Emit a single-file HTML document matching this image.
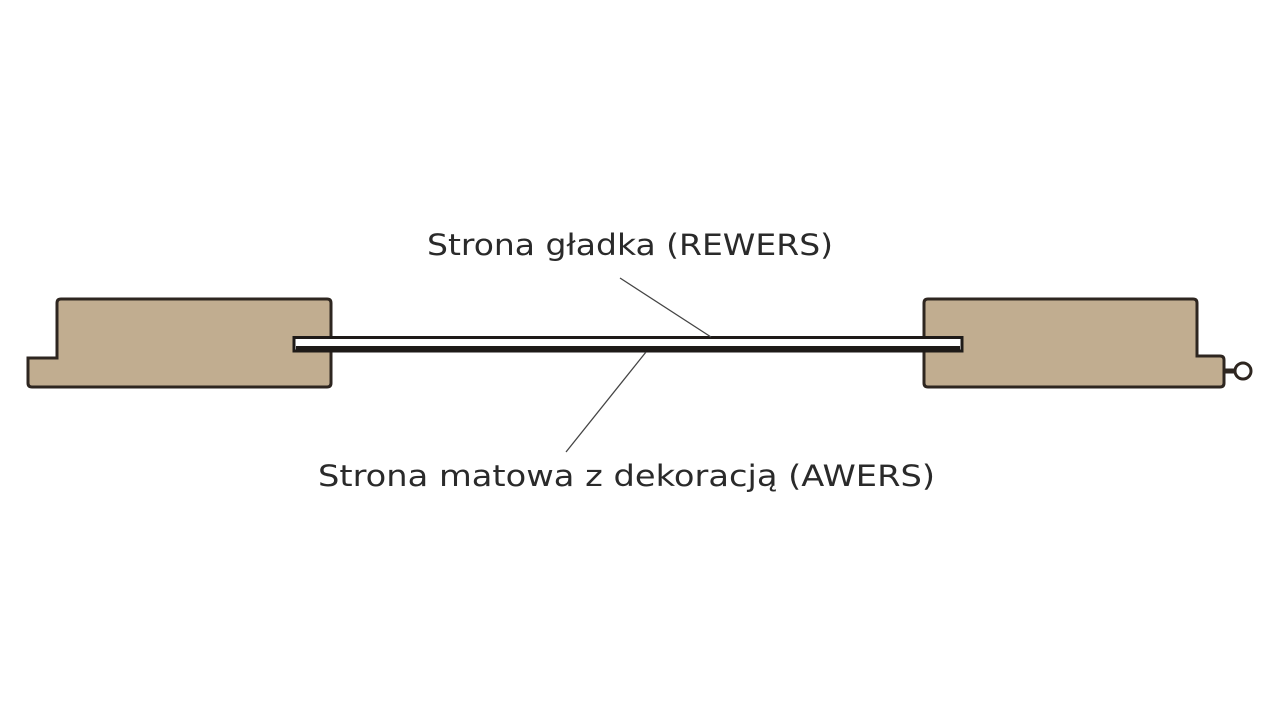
<!DOCTYPE html>
<html><head><meta charset="utf-8"><style>
html,body{margin:0;padding:0;background:#fff;width:1280px;height:720px;overflow:hidden}
text{font-family:"DejaVu Sans","Liberation Sans",sans-serif;fill:#2a2a2a}
</style></head><body>
<svg width="1280" height="720" viewBox="0 0 1280 720">
<path d="M61,299 H327 Q331,299 331,303 V383 Q331,387 327,387 H32 Q28,387 28,383 V358 H57 V303 Q57,299 61,299 Z" fill="#c1ad90" stroke="#2e2620" stroke-width="3"/>
<path d="M928,299 H1193 Q1197,299 1197,303 V356 H1220 Q1224,356 1224,360 V383 Q1224,387 1220,387 H928 Q924,387 924,383 V303 Q924,299 928,299 Z" fill="#c1ad90" stroke="#2e2620" stroke-width="3"/>
<line x1="1224" y1="371" x2="1234" y2="371" stroke="#2e2620" stroke-width="5"/>
<circle cx="1243" cy="371" r="8" fill="#fff" stroke="#2e2620" stroke-width="3"/>
<rect x="294" y="337.5" width="668" height="13.5" fill="#fff" stroke="#1e1a18" stroke-width="3"/>
<rect x="296" y="346" width="664" height="4" fill="#1e1a18"/>
<line x1="620" y1="278" x2="711" y2="337" stroke="#444" stroke-width="1.3"/>
<line x1="646" y1="352" x2="566" y2="452" stroke="#444" stroke-width="1.3"/>
<text x="427" y="255" font-size="29" textLength="406" lengthAdjust="spacingAndGlyphs">Strona gładka (REWERS)</text>
<text x="318" y="486" font-size="29" textLength="617" lengthAdjust="spacingAndGlyphs">Strona matowa z dekoracją (AWERS)</text>
</svg>
</body></html>
